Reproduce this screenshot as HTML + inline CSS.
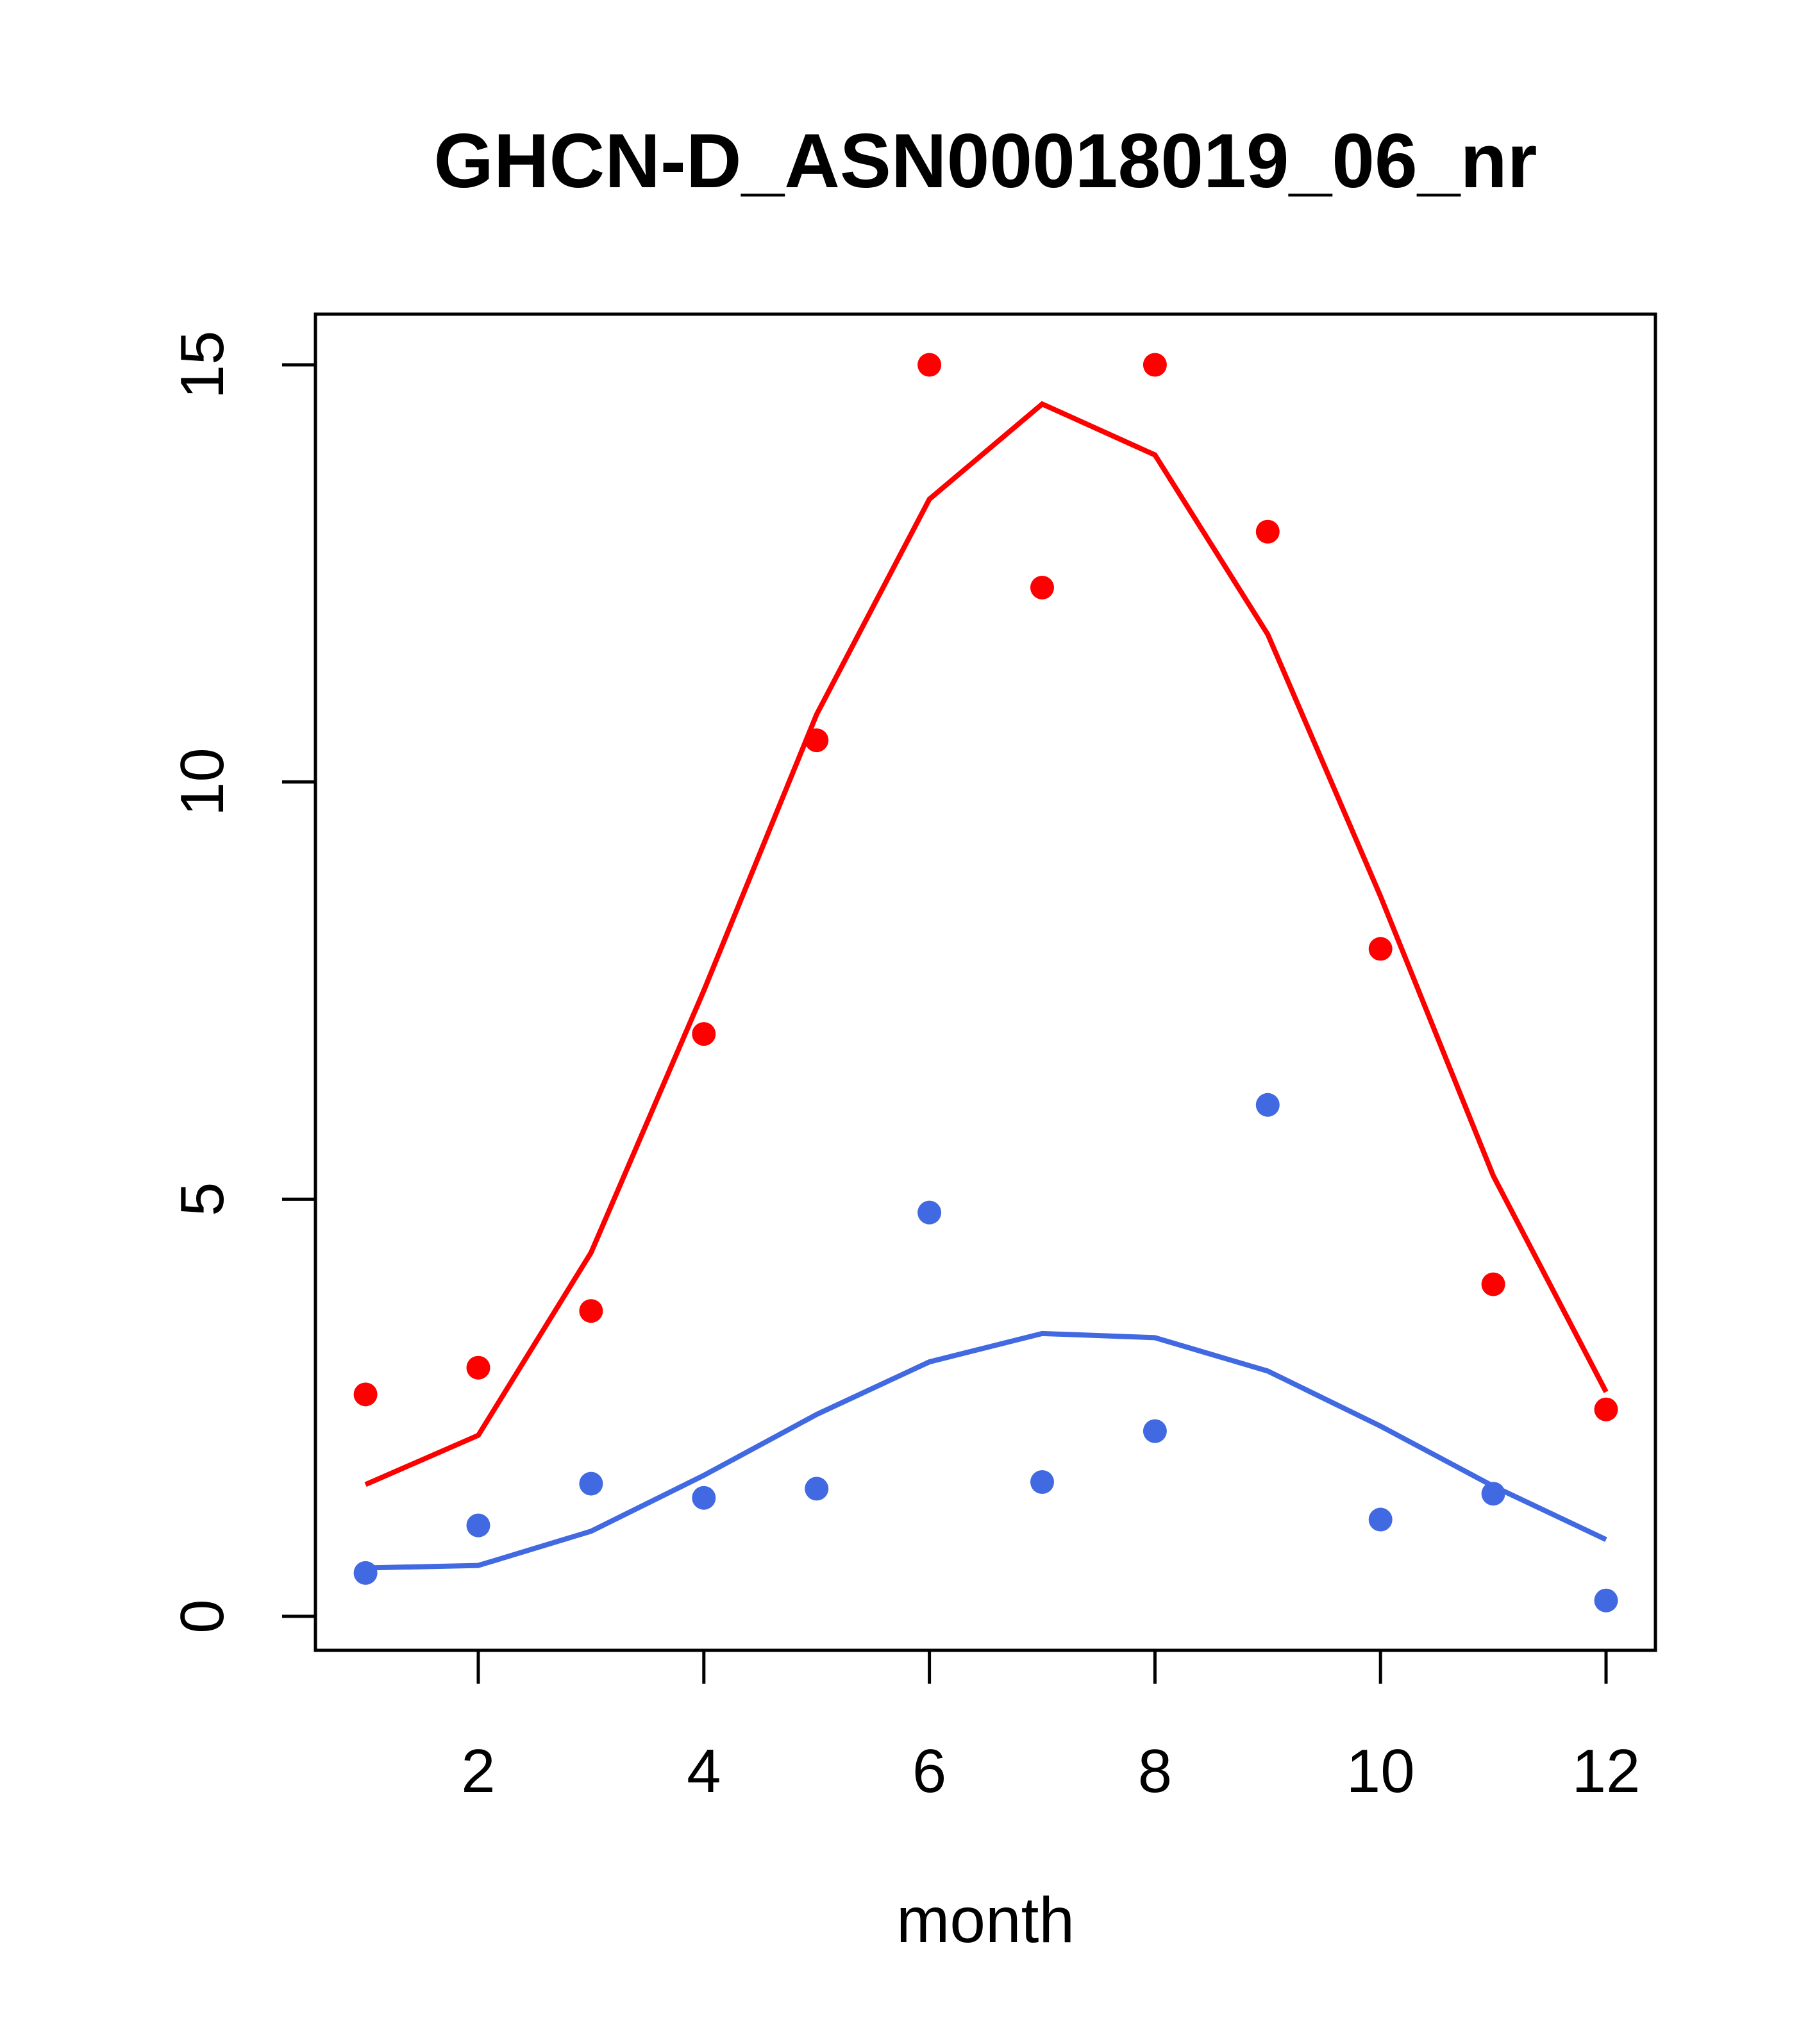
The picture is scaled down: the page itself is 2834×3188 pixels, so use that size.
<!DOCTYPE html>
<html><head><meta charset="utf-8"><style>
html,body{margin:0;padding:0;background:#fff;}
svg{display:block;font-family:"Liberation Sans",Arial,sans-serif;}
</style></head><body>
<svg id="chart" width="2834" height="3188" viewBox="0 0 2834 3188" xmlns="http://www.w3.org/2000/svg">
<rect width="2834" height="3188" fill="#fff"/>
<text x="1537" y="292" font-size="120" font-weight="bold" text-anchor="middle">GHCN-D_ASN00018019_06_nr</text>
<rect x="492" y="490" width="2090" height="2084" fill="none" stroke="#000" stroke-width="5"/>
<text x="1537" y="3029" font-size="100" text-anchor="middle">month</text>
<g id="axes"></g>
<g id="series"></g>
</svg>
<script>
const months = [1,2,3,4,5,6,7,8,9,10,11,12];
const redPoints = [2.66,2.98,3.66,6.98,10.5,15,12.33,15,13,8,3.98,2.48];
const redLine = [1.58,2.17,4.36,7.5,10.81,13.39,14.53,13.92,11.77,8.63,5.28,2.69];
const bluePoints = [0.52,1.09,1.59,1.42,1.53,4.84,1.61,2.22,6.13,1.16,1.47,0.19];
const blueLine = [0.58,0.61,1.02,1.69,2.42,3.05,3.39,3.34,2.94,2.28,1.56,0.92];
const xTicks = [2,4,6,8,10,12];
const yTicks = [0,5,10,15];

const NS = "http://www.w3.org/2000/svg";
function X(v){ return 746 + (v-2)*(2505-746)/10; }
function Y(v){ return 2521 - v*(2521-569)/15; }
function mk(tag, attrs, parent){
  const e = document.createElementNS(NS, tag);
  for (const k in attrs) e.setAttribute(k, attrs[k]);
  parent.appendChild(e);
  return e;
}
const axes = document.getElementById('axes');
const series = document.getElementById('series');

xTicks.forEach(t => {
  const l = mk('line', {x1:X(t), x2:X(t), y1:2574, y2:2626, stroke:'#000', 'stroke-width':5}, axes);
  
  
  const tx = mk('text', {x:X(t), y:2795, 'font-size':96, 'text-anchor':'middle'}, axes);
  tx.textContent = t;
  
  
});
yTicks.forEach(t => {
  const l = mk('line', {x1:440, x2:492, y1:Y(t), y2:Y(t), stroke:'#000', 'stroke-width':5}, axes);
  
  
  const tx = mk('text', {x:0, y:0, 'font-size':96, 'text-anchor':'middle', transform:`translate(348,${Y(t)}) rotate(-90)`}, axes);
  tx.textContent = t;
  
  
});

function drawLine(vals, color, name){
  const p = mk('polyline', {points: months.map((m,i)=>X(m)+','+Y(vals[i])).join(' '), fill:'none', stroke:color, 'stroke-width':8}, series);
  
  
}
function drawPoints(vals, color, name){
  months.forEach((m,i)=>{
    const c = mk('circle', {cx:X(m), cy:Y(vals[i]), r:18.5, fill:color}, series);
    
    
  });
}
drawLine(redLine, '#ff0000', 'red-line');
drawLine(blueLine, '#4169e1', 'blue-line');
drawPoints(redPoints, '#ff0000', 'red-point');
drawPoints(bluePoints, '#4169e1', 'blue-point');
</script>
</body></html>
